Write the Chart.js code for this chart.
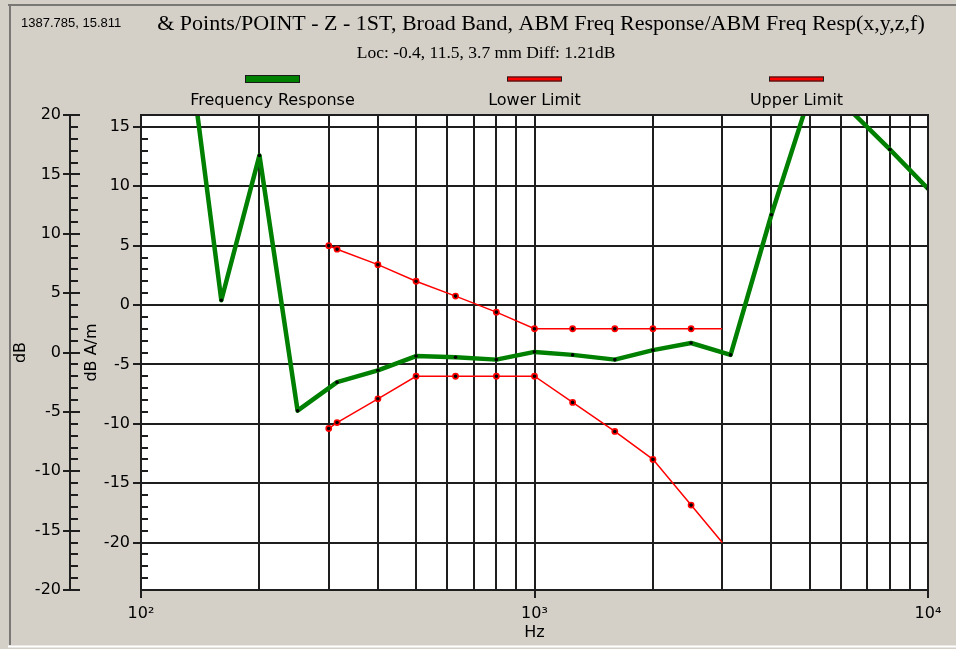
<!DOCTYPE html>
<html>
<head>
<meta charset="utf-8">
<script src="https://cdn.jsdelivr.net/npm/chart.js@4.4.1/dist/chart.umd.min.js"></script>
<style>
  html, body { margin: 0; padding: 0; background: #d4d0c8; }
  canvas { display: block; }
</style>
</head>
<body>
<canvas id="chart" width="956" height="649"></canvas>
<script>
const responseFreqs = [125, 160, 200, 250, 315, 400, 500, 630, 800, 1000, 1250, 1600, 2000, 2500, 3150, 4000, 5000, 6300, 8000, 10000];
const responseDb = [32, 4.4, 16.6, -4.9, -2.5, -1.5, -0.3, -0.4, -0.6, 0.05, -0.2, -0.6, 0.2, 0.8, -0.2, 11.6, 21.6, 20.5, 17.1, 13.8];

const limitFreqs = [300, 315, 400, 500, 630, 800, 1000, 1250, 1600, 2000, 2500, 3000];
const lowerLimitDb = [-6.4, -5.9, -3.9, -2, -2, -2, -2, -4.2, -6.65, -9, -12.85, -16];
const upperLimitDb = [9, 8.7, 7.4, 6, 4.75, 3.4, 2, 2, 2, 2, 2, 2];

const xGridFreqs = [100, 200, 300, 400, 500, 600, 700, 800, 900,
  1000, 2000, 3000, 4000, 5000, 6000, 7000, 8000, 9000, 10000];
const xDecades = [100, 1000, 10000];
const xTickLabels = ["10²", "10³", "10⁴"];

const dbRange = [-20, 20];
const dbTicks = [-20, -15, -10, -5, 0, 5, 10, 15, 20];
const dbAmRange = [-24, 16];
const dbAmTicks = [-20, -15, -10, -5, 0, 5, 10, 15];

const readoutText = "1387.785, 15.811";
const titleText = "& Points/POINT - Z - 1ST, Broad Band, ABM Freq Response/ABM Freq Resp(x,y,z,f)";
const subtitleText = "Loc: -0.4, 11.5, 3.7 mm Diff: 1.21dB";

// STYLE
const lineColor = "#1e1e1e";
const sansFont = "'DejaVu Sans', sans-serif";
const serifFont = "'Liberation Serif', 'Times New Roman', serif";

Chart.defaults.font.family = sansFont;
Chart.defaults.font.size = 16;
Chart.defaults.color = "#000";

const zip = (xs, ys) => xs.map((x, i) => ({ x, y: ys[i] }));
const lastHidden = (xs, r) => xs.map((_, i) => (i === xs.length - 1 ? 0 : r));

function line(ctx, x1, y1, x2, y2) {
    ctx.beginPath();
    ctx.moveTo(x1, y1);
    ctx.lineTo(x2, y2);
    ctx.stroke();
}

const framePlugin = {
    id: "frame",
    beforeDraw(chart) {
        const { ctx, chartArea: a, width, height } = chart;
        ctx.save();
        ctx.fillStyle = "#d4d0c8";
        ctx.fillRect(0, 0, width, height);
        // sunken panel border
        ctx.lineWidth = 2;
        ctx.strokeStyle = "#7a7874";
        line(ctx, 8, 5, width, 5);
        line(ctx, 10, 5, 10, height - 4);
        ctx.strokeStyle = "#ffffff";
        line(ctx, 8, height - 2.5, width, height - 2.5);
        ctx.fillStyle = "#ffffff";
        ctx.fillRect(a.left, a.top, a.right - a.left, a.bottom - a.top);
        ctx.restore();
    },
    afterDatasetsDraw(chart) {
        const { ctx, chartArea: a } = chart;
        ctx.save();
        ctx.strokeStyle = lineColor;
        ctx.lineWidth = 2;
        ctx.strokeRect(a.left, a.top, a.right - a.left, a.bottom - a.top);
        ctx.restore();
    },
    afterDraw(chart) {
        const { ctx, chartArea: a } = chart;
        const ys = chart.scales.y;
        const y2 = chart.scales.y2;
        ctx.save();
        ctx.strokeStyle = lineColor;
        ctx.lineWidth = 2;
        // inward ticks on the outer dB axis
        for (let v = ys.min; v <= ys.max; v++) {
            const py = Math.round(ys.getPixelForValue(v));
            line(ctx, ys.right, py, ys.right + (v % 5 === 0 ? 10 : 8), py);
        }
        // inward minor ticks on the dB A/m axis
        for (let v = y2.min; v <= y2.max; v++) {
            if (v % 5 === 0) continue;
            const py = Math.round(y2.getPixelForValue(v));
            line(ctx, y2.right, py, y2.right + 7, py);
        }

        // readout, title, subtitle
        ctx.fillStyle = "#000";
        ctx.textBaseline = "alphabetic";
        ctx.textAlign = "left";
        ctx.font = "13px 'Liberation Sans', Arial, sans-serif";
        ctx.fillText(readoutText, 21, 27);
        ctx.textAlign = "center";
        ctx.font = "22px " + serifFont;
        ctx.fillText(titleText, 541, 30);
        ctx.font = "17.5px " + serifFont;
        ctx.fillText(subtitleText, 486, 58);

        // legend: swatch above label
        const cx = (a.left + a.right) / 2;
        ctx.font = "16px " + sansFont;
        chart.data.datasets.forEach((ds, i) => {
            const x = cx + (i - 1) * 262;
            const h = ds.borderWidth > 3 ? 8 : 5;
            ctx.fillStyle = ds.borderColor;
            ctx.fillRect(x - 27.5, 79 - h / 2, 55, h);
            ctx.strokeStyle = "#1a1a1a";
            ctx.lineWidth = 1;
            ctx.strokeRect(x - 27.5 + 0.5, 79 - h / 2 + 0.5, 54, h - 1);
            ctx.fillStyle = "#000";
            ctx.fillText(ds.label, x, 105);
        });
        ctx.restore();
    },
};

new Chart(document.getElementById("chart"), {
    type: "line",
    data: {
        datasets: [
            {
                label: "Frequency Response",
                data: zip(responseFreqs, responseDb),
                borderColor: "#008000",
                backgroundColor: "#008000",
                borderWidth: 4.5,
                borderJoinStyle: "round",
                borderCapStyle: "round",
                pointRadius: 1.8,
                pointBackgroundColor: "#000",
                pointBorderWidth: 0,
                clip: 0,
                yAxisID: "y",
            },
            {
                label: "Lower Limit",
                data: zip(limitFreqs, lowerLimitDb),
                borderColor: "#ff0000",
                backgroundColor: "#ff0000",
                borderWidth: 1.5,
                pointRadius: lastHidden(limitFreqs, 2.6),
                pointBackgroundColor: "#000",
                pointBorderColor: "#ff0000",
                pointBorderWidth: 1.6,
                yAxisID: "y",
            },
            {
                label: "Upper Limit",
                data: zip(limitFreqs, upperLimitDb),
                borderColor: "#ff0000",
                backgroundColor: "#ff0000",
                borderWidth: 1.5,
                pointRadius: lastHidden(limitFreqs, 2.6),
                pointBackgroundColor: "#000",
                pointBorderColor: "#ff0000",
                pointBorderWidth: 1.6,
                yAxisID: "y",
            },
        ],
    },
    options: {
        responsive: false,
        animation: false,
        devicePixelRatio: 1,
        events: [],
        layout: { padding: { left: 10, right: 28, top: 115, bottom: 0 } },
        plugins: { legend: { display: false }, tooltip: { enabled: false } },
        scales: {
            x: {
                type: "logarithmic",
                position: "bottom",
                min: 100,
                max: 10000,
                afterBuildTicks: (s) => { s.ticks = xGridFreqs.map((v) => ({ value: v })); },
                afterFit: (s) => { s.height = 59; },
                ticks: {
                    autoSkip: false,
                    maxRotation: 0,
                    padding: 6,
                    callback: (v) => {
                        const i = xDecades.indexOf(v);
                        return i < 0 ? "" : xTickLabels[i];
                    },
                },
                grid: {
                    color: lineColor,
                    lineWidth: 2,
                    tickLength: 8,
                    tickColor: (c) => (c.tick && xDecades.includes(c.tick.value) ? lineColor : "rgba(0,0,0,0)"),
                },
                border: { color: lineColor, width: 2 },
                title: { display: true, text: "Hz", padding: { top: 0, bottom: 7 } },
            },
            y: {
                position: "left",
                weight: 2,
                min: dbRange[0],
                max: dbRange[1],
                afterBuildTicks: (s) => { s.ticks = dbTicks.map((v) => ({ value: v })); },
                afterFit: (s) => { s.width = 60; },
                ticks: { padding: 2 },
                grid: { drawOnChartArea: false, tickLength: 7, color: lineColor, lineWidth: 2 },
                border: { color: lineColor, width: 2 },
                title: { display: true, text: "dB", padding: { top: 1, bottom: 0 } },
            },
            y2: {
                position: "left",
                weight: 1,
                min: dbAmRange[0],
                max: dbAmRange[1],
                afterBuildTicks: (s) => { s.ticks = dbAmTicks.map((v) => ({ value: v })); },
                afterFit: (s) => { s.width = 71; },
                ticks: { padding: 3 },
                grid: { color: lineColor, lineWidth: 2, tickLength: 8 },
                border: { color: lineColor, width: 2 },
                title: { display: true, text: "dB A/m", padding: { top: 12, bottom: 0 } },
            },
        },
    },
    plugins: [framePlugin],
});
</script>
</body>
</html>
